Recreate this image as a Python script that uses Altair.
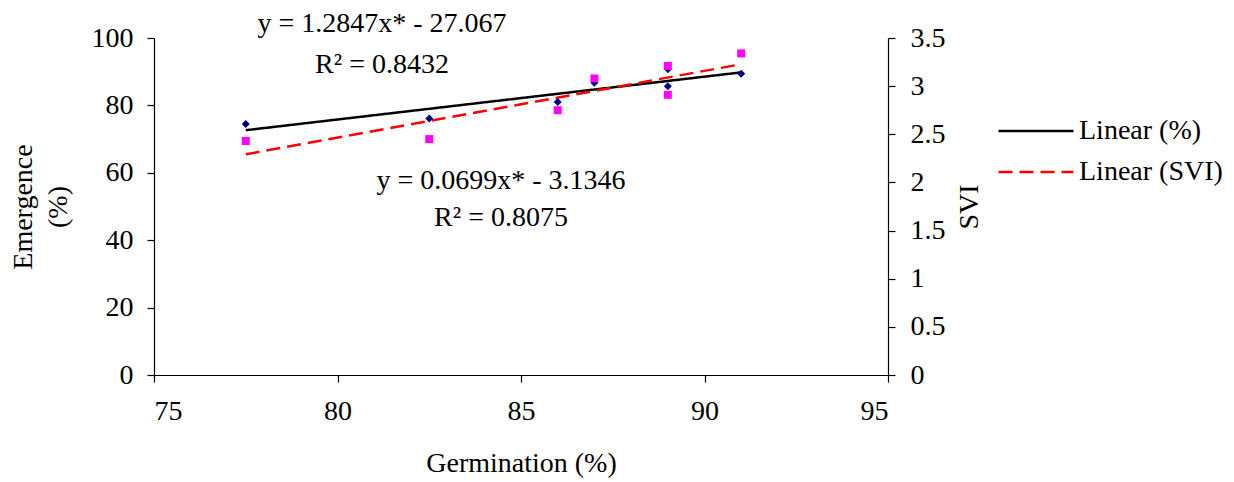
import altair as alt
import pandas as pd

# Data
germination = [77.5, 82.5, 86, 87, 89, 89, 91]
emergence = [74.5, 76.1, 81.0, 86.7, 90.7, 85.7, 89.4]
svi = [2.43, 2.45, 2.75, 3.08, 3.21, 2.91, 3.34]

series_names = ["Linear (%)", "Linear (SVI)"]
eq_em = "y = 1.2847x* - 27.067"
r2_em = "R² = 0.8432"
eq_svi = "y = 0.0699x* - 3.1346"
r2_svi = "R² = 0.8075"

df = pd.DataFrame({"Germination": germination, "Emergence": emergence, "SVI": svi})

FONT = "Liberation Serif"
FS = 28

x_enc = alt.X("Germination:Q",
              scale=alt.Scale(domain=[75, 95], nice=False, zero=False),
              axis=alt.Axis(values=[75, 80, 85, 90, 95], title="Germination (%)",
                            labelPadding=15, titlePadding=24, tickSize=7))

y_em_scale = alt.Scale(domain=[0, 100], nice=False)
y_svi_scale = alt.Scale(domain=[0, 3.5], nice=False)

color_enc = alt.Color("series:N",
                      scale=alt.Scale(domain=series_names, range=["black", "#FF0000"]),
                      legend=alt.Legend(title=None, orient="none", legendX=843, legendY=79,
                                        symbolType="M-1,0H5", symbolSize=625,
                                        symbolStrokeWidth=2.5, labelFontSize=FS,
                                        labelFont=FONT, labelColor="black",
                                        labelOffset=54, rowPadding=13, padding=0,
                                        labelLimit=400))
dash_enc = alt.StrokeDash("series:N",
                          scale=alt.Scale(domain=series_names, range=[[1, 0], [14, 7]]),
                          legend=None)

em_line = alt.Chart(df).transform_regression(
    "Germination", "Emergence"
).transform_calculate(series="'Linear (%)'").mark_line(strokeWidth=2.5).encode(
    x=x_enc,
    y=alt.Y("Emergence:Q", scale=y_em_scale,
            axis=alt.Axis(values=[0, 20, 40, 60, 80, 100], title=["Emergence", "(%)"],
                          orient="left", labelPadding=14, titlePadding=19, tickSize=7,
                          titleLineHeight=35)),
    color=color_enc,
    strokeDash=dash_enc,
)

svi_line = alt.Chart(df).transform_regression(
    "Germination", "SVI"
).transform_calculate(series="'Linear (SVI)'").mark_line(strokeWidth=2.5).encode(
    x=x_enc,
    y=alt.Y("SVI:Q", scale=y_svi_scale,
            axis=alt.Axis(values=[0, 0.5, 1, 1.5, 2, 2.5, 3, 3.5], title="SVI",
                          orient="right", labelPadding=15, titlePadding=10, tickSize=7,
                          titleAngle=270, titleBaseline="top", format="~g")),
    color=color_enc,
    strokeDash=dash_enc,
)

em_pts = alt.Chart(df).mark_point(shape="diamond", filled=True, size=64,
                                  color="#000080", opacity=1).encode(
    x=x_enc,
    y=alt.Y("Emergence:Q", scale=y_em_scale, axis=None),
)

svi_pts = alt.Chart(df).mark_point(shape="square", filled=True, size=64,
                                   color="#FF00FF", opacity=1).encode(
    x=x_enc,
    y=alt.Y("SVI:Q", scale=y_svi_scale, axis=None),
)


def label(text, px, py):
    return alt.Chart(pd.DataFrame({"t": [text]})).mark_text(
        font=FONT, fontSize=FS, color="black", align="center", baseline="alphabetic"
    ).encode(text="t:N", x=alt.value(px), y=alt.value(py))


texts = [
    label(eq_em, 228, -6),
    label(r2_em, 228, 35),
    label(eq_svi, 347, 151),
    label(r2_svi, 347, 188),
]

chart = alt.layer(em_line, svi_line, em_pts, svi_pts, *texts).resolve_scale(
    y="independent"
).properties(
    width=734, height=337,
    autosize=alt.AutoSizeParams(type="none"),
    padding={"left": 146, "top": 30, "right": 338, "bottom": 105},
    background="white",
).configure_view(stroke=None).configure_axis(
    grid=False, labelFont=FONT, titleFont=FONT, labelFontSize=FS, titleFontSize=FS,
    labelColor="black", titleColor="black", domainColor="black", tickColor="black",
    titleFontWeight="normal", domainWidth=1.2, tickWidth=1.2,
)

chart.save("out.html", embed_options={"renderer": "svg", "actions": False})
